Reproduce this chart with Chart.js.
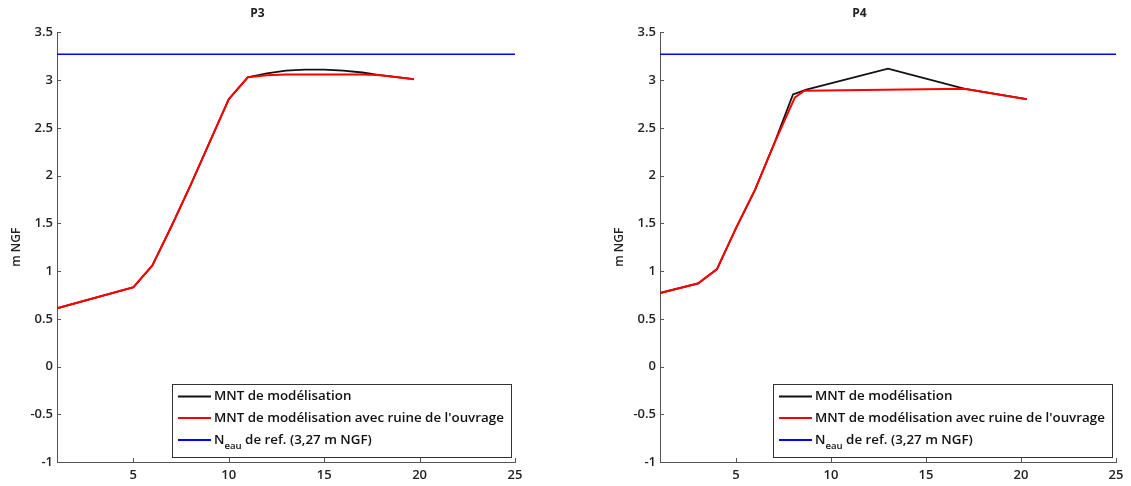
<!DOCTYPE html>
<html><head><meta charset="utf-8">
<script src="https://cdn.jsdelivr.net/npm/chart.js@4.4.0/dist/chart.umd.min.js"></script>
<style>
html,body{margin:0;padding:0;background:#fff;}
#wrap{position:relative;width:1131px;height:486px;overflow:hidden;background:#fff;}
.box{position:absolute;top:0;height:486px;}
</style></head><body>
<div id="wrap">
<div class="box" style="left:0;width:565px"><canvas id="c3" width="565" height="486"></canvas></div>
<div class="box" style="left:565px;width:566px"><canvas id="c4" width="566" height="486"></canvas></div>
</div>
<script>
// ---- data ----
const xTicks = [5, 10, 15, 20, 25];
const xTickLabels = ['5', '10', '15', '20', '25'];
const yTicks = [-1, -0.5, 0, 0.5, 1, 1.5, 2, 2.5, 3, 3.5];
const yTickLabels = ['-1', '-0.5', '0', '0.5', '1', '1.5', '2', '2.5', '3', '3.5'];

const p3MntDist   = [1, 5, 6, 7, 8, 9, 10, 11, 12, 13, 14, 15, 16, 17, 18, 19.7];
const p3Mnt       = [0.61, 0.83, 1.06, 1.47, 1.90, 2.35, 2.80, 3.03, 3.07, 3.10, 3.11, 3.11, 3.10, 3.08, 3.05, 3.01];
const p3RuineDist = [1, 5, 6, 7, 8, 9, 10, 11, 12, 13, 14, 15, 16, 17, 18, 19.7];
const p3Ruine     = [0.61, 0.83, 1.06, 1.47, 1.90, 2.35, 2.80, 3.03, 3.05, 3.06, 3.06, 3.06, 3.06, 3.06, 3.05, 3.01];

const p4MntDist   = [1, 3, 4, 5, 6, 7, 8, 8.7, 13, 17, 20.3];
const p4Mnt       = [0.77, 0.87, 1.02, 1.45, 1.85, 2.33, 2.85, 2.90, 3.12, 2.91, 2.80];
const p4RuineDist = [1, 3, 4, 5, 6, 7, 8.1, 8.6, 17, 20.3];
const p4Ruine     = [0.77, 0.87, 1.02, 1.45, 1.85, 2.33, 2.82, 2.89, 2.91, 2.80];

const waterDist  = [1, 25];
const waterLevel = [3.27, 3.27];

const titles = ['P3', 'P4'];
const yTitle = 'm NGF';
const legendLabel1 = 'MNT de modélisation';
const legendLabel2 = "MNT de modélisation avec ruine de l'ouvrage";
const legendLabel3 = ['N', 'eau', ' de ref. (3,27 m NGF)'];

// ---- helpers ----
const FONT = "'Open Sans', 'Liberation Sans', sans-serif";
const pts = (xs, ys) => xs.map((x, i) => ({x: x, y: ys[i]}));

const extras = {
  id: 'extras',
  afterDatasetsDraw(chart) {
    const ctx = chart.ctx;
    const ca = chart.chartArea;
    const xs = chart.scales.x, ys = chart.scales.y;
    ctx.save();
    // inward tick marks
    ctx.strokeStyle = '#555';
    ctx.lineWidth = 1;
    ctx.beginPath();
    xTicks.forEach(v => {
      const px = Math.round(xs.getPixelForValue(v)) + 0.5;
      ctx.moveTo(px, ca.bottom); ctx.lineTo(px, ca.bottom - 4);
    });
    yTicks.forEach(v => {
      const py = Math.round(ys.getPixelForValue(v)) + 0.5;
      ctx.moveTo(ca.left, py); ctx.lineTo(ca.left + 4, py);
    });
    ctx.stroke();

    // legend box
    const right = ca.right - 4, bottom = ca.bottom - 5;
    const w = 339, h = 73;
    const left = right - w, top = bottom - h;
    ctx.fillStyle = '#fff';
    ctx.fillRect(left, top, w, h);
    ctx.strokeStyle = '#333';
    ctx.strokeRect(Math.round(left) + 0.5, Math.round(top) + 0.5, w, h);

    // fit font to target width
    let size = 13;
    ctx.font = '600 ' + size + 'px ' + FONT;
    const mw = ctx.measureText(legendLabel2).width;
    size = size * 290 / mw;
    const mainFont = '600 ' + size.toFixed(2) + 'px ' + FONT;
    const subFont = '600 ' + (size * 0.72).toFixed(2) + 'px ' + FONT;

    const rows = [top + 12.5, top + 34, top + 56];
    const colors = ['#111', '#ff0000', '#0000ff'];
    rows.forEach((y, i) => {
      ctx.strokeStyle = colors[i];
      ctx.lineWidth = 2;
      ctx.beginPath();
      ctx.moveTo(left + 6, y); ctx.lineTo(left + 39, y);
      ctx.stroke();
    });
    ctx.fillStyle = '#111';
    ctx.textBaseline = 'middle';
    ctx.textAlign = 'left';
    ctx.font = mainFont;
    const tx = left + 42;
    ctx.fillText(legendLabel1, tx, rows[0]);
    ctx.fillText(legendLabel2, tx, rows[1]);
    ctx.fillText(legendLabel3[0], tx, rows[2]);
    let cx = tx + ctx.measureText(legendLabel3[0]).width;
    ctx.font = subFont;
    ctx.fillText(legendLabel3[1], cx, rows[2] + 6);
    cx += ctx.measureText(legendLabel3[1]).width;
    ctx.font = mainFont;
    ctx.fillText(legendLabel3[2], cx, rows[2]);
    ctx.restore();
  }
};

function makeChart(id, title, mntDist, mnt, ruineDist, ruine, padLeft, padRight) {
  return new Chart(document.getElementById(id), {
    type: 'scatter',
    data: {
      datasets: [
        {label: legendLabel1, data: pts(mntDist, mnt), showLine: true, borderColor: '#111', borderWidth: 1.8, pointRadius: 0, order: 1},
        {label: legendLabel2, data: pts(ruineDist, ruine), showLine: true, borderColor: '#ff0000', borderWidth: 2, pointRadius: 0, order: 0},
        {label: 'Neau de ref. (3,27 m NGF)', data: pts(waterDist, waterLevel), showLine: true, borderColor: '#0000ff', borderWidth: 1.5, pointRadius: 0, order: 2}
      ]
    },
    options: {
      responsive: false,
      animation: false,
      devicePixelRatio: 1,
      layout: {padding: {left: padLeft, right: padRight, top: 0, bottom: 0}},
      plugins: {
        legend: {display: false},
        tooltip: {enabled: false},
        title: {display: true, text: title, color: '#222', font: {family: FONT, size: 12, weight: 'bold'}, padding: {top: 6, bottom: 12}}
      },
      elements: {line: {tension: 0}},
      scales: {
        x: {
          type: 'linear', min: 1, max: 25,
          afterBuildTicks: s => { s.ticks = xTicks.map(v => ({value: v})); },
          afterFit: s => { s.height = 24; },
          grid: {drawOnChartArea: false, drawTicks: false},
          border: {display: true, color: '#555', width: 1},
          ticks: {
            padding: 5, color: '#222', maxRotation: 0, autoSkip: false,
            font: {family: FONT, size: 13, weight: '600'},
            callback: (v) => { const i = xTicks.indexOf(v); return i >= 0 ? xTickLabels[i] : ''; }
          }
        },
        y: {
          type: 'linear', min: -1, max: 3.5,
          afterBuildTicks: s => { s.ticks = yTicks.map(v => ({value: v})); },
          afterFit: s => { s.width = 57; },
          grid: {drawOnChartArea: false, drawTicks: false},
          border: {display: true, color: '#555', width: 1},
          title: {display: true, text: yTitle, color: '#222', font: {family: FONT, size: 12, weight: '600'}, padding: {top: 9, bottom: 0}},
          ticks: {
            padding: 4, color: '#222', autoSkip: false,
            font: {family: FONT, size: 13, weight: '600'},
            callback: (v) => { const i = yTicks.indexOf(v); return i >= 0 ? yTickLabels[i] : ''; }
          }
        }
      }
    },
    plugins: [extras]
  });
}

makeChart('c3', titles[0], p3MntDist, p3Mnt, p3RuineDist, p3Ruine, 0, 50);
makeChart('c4', titles[1], p4MntDist, p4Mnt, p4RuineDist, p4Ruine, 38, 15);
</script>
</body></html>
